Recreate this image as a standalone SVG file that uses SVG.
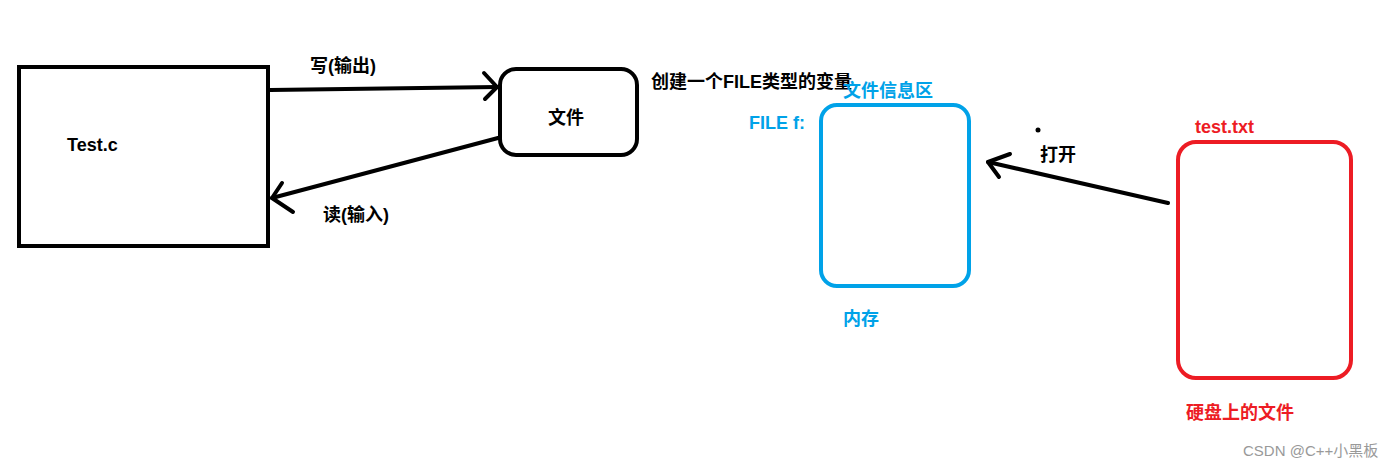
<svg xmlns="http://www.w3.org/2000/svg" width="1400" height="470" viewBox="0 0 1400 470">
<defs>
<style>
.t{font-family:"Liberation Sans","Noto Sans CJK SC",sans-serif;font-weight:bold;font-size:18px;fill:#000}
.b{fill:#00a2e8}
.r{fill:#ed1c24}
.box{fill:none;stroke:#000;stroke-width:4}
.ln{fill:none;stroke:#000;stroke-width:4;stroke-linecap:round;stroke-linejoin:round}
</style>
</defs>
<rect width="1400" height="470" fill="#fff"/>
<g id="connectors">
<g id="write">
<path class="ln" d="M270 90 L497 87"/>
<path class="ln" d="M484 73 L497 87 L485 99"/>
</g>
<g id="read">
<path class="ln" d="M498 138 L272 198"/>
<path class="ln" d="M282 183 L272 198 L293 212"/>
</g>
<g id="open">
<path class="ln" d="M1168 203 L988 162"/>
<path class="ln" d="M1010 154 L988 162 L999 177"/>
</g>
</g>
<g id="testc">
<rect class="box" x="19" y="67" width="249" height="179"/>
<text class="t" x="67" y="151" font-size="20">Test.c</text>
</g>
<g id="file">
<rect class="box" x="500" y="69" width="137" height="86" rx="16"/>
<text class="t" x="566" y="124" text-anchor="middle">文件</text>
</g>
<g id="labels">
<text class="t" x="310" y="72">写(输出)</text>
<text class="t" x="323" y="221">读(输入)</text>
<text class="t" x="651" y="88">创建一个FILE类型的变量</text>
</g>
<g id="memory">
<rect x="821" y="105" width="148" height="181" rx="16" fill="none" stroke="#00a2e8" stroke-width="4"/>
<text class="t b" x="843" y="97">文件信息区</text>
<text class="t b" x="749" y="129">FILE f:</text>
<text class="t b" x="843" y="325">内存</text>
</g>
<g id="disk">
<rect x="1178" y="142" width="173" height="236" rx="18" fill="none" stroke="#ed1c24" stroke-width="4"/>
<text class="t r" x="1195" y="133" font-size="19">test.txt</text>
<text class="t r" x="1186" y="419">硬盘上的文件</text>
</g>
<circle cx="1038" cy="130" r="2.5" fill="#000"/>
<text class="t" x="1040" y="161">打开</text>
<text x="1243" y="456" font-family="Liberation Sans,'Noto Sans CJK SC',sans-serif" font-size="15" fill="#999">CSDN @C++小黑板</text>
</svg>
